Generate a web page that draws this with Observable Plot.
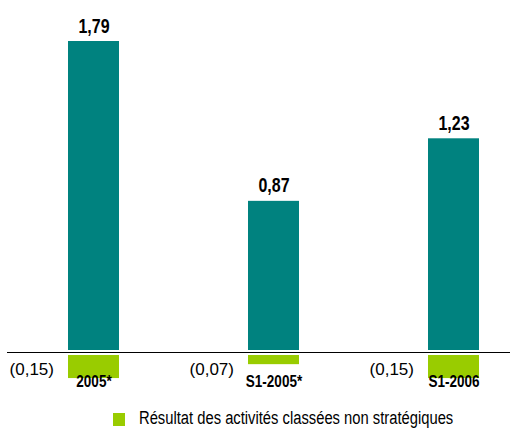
<!DOCTYPE html>
<html>
<head>
<meta charset="utf-8">
<script src="https://cdn.jsdelivr.net/npm/d3@7"></script>
<script src="https://cdn.jsdelivr.net/npm/@observablehq/plot@0.6"></script>
<style>
  html, body { margin: 0; padding: 0; background: #fff; }
  #wrap { position: relative; width: 510px; height: 428px; overflow: hidden; }
  #legend { position: absolute; left: 0; top: 400px; width: 510px; height: 28px;
    font-family: "Liberation Sans", Arial, sans-serif; font-size: 18px; color: #000; }
  #legend .sw { position: absolute; left: 113px; top: 13px; width: 12px; height: 13px; background: #99CC00; }
  #legend .lab { position: absolute; left: 139px; top: 8px; white-space: nowrap; line-height: 20px;
    transform: scaleX(0.82); transform-origin: 0 50%; }
</style>
</head>
<body>
<div id="wrap"></div>
<script>
const categories = ["2005*", "S1-2005*", "S1-2006"];
const resultValues = [1.79, 0.87, 1.23];
const resultLabels = ["1,79", "0,87", "1,23"];
const nonStrategicValues = [-0.15, -0.07, -0.15];
const nonStrategicLabels = ["(0,15)", "(0,07)", "(0,15)"];
const legendLabel = "Résultat des activités classées non stratégiques";

const teal = "#00827F";
const green = "#99CC00";
const font = "'Liberation Sans', Arial, sans-serif";

const main = categories.map((c, i) => ({cat: c, v: resultValues[i], label: resultLabels[i]}));
const neg = categories.map((c, i) => ({cat: c, v: nonStrategicValues[i], label: nonStrategicLabels[i]}));

const chart = Plot.plot({
  width: 510,
  height: 400,
  marginLeft: 7,
  marginRight: 0,
  marginTop: 0,
  marginBottom: 0,
  style: {background: "#fff", overflow: "visible"},
  x: {domain: categories, range: [49, 497], paddingInner: 0.718, paddingOuter: 0.1, axis: null},
  y: {domain: [0, 1.79], range: [352, 41], axis: null},
  marks: [
    Plot.barY(main, {x: "cat", y1: 0, y2: "v", fill: teal, insetBottom: 2}),
    Plot.barY(neg, {x: "cat", y1: 0, y2: "v", fill: green, insetTop: 3}),
    Plot.ruleY([0], {stroke: "#000", strokeWidth: 1.2}),
    Plot.text(main, {x: "cat", y: "v", text: "label", dy: -9, lineAnchor: "bottom",
      fontFamily: font, fontWeight: "bold", fontSize: 19.5, fill: "#000"}),
    Plot.text(neg, {x: "cat", y: d => 0, text: "label", dx: -40, dy: 17, textAnchor: "end", lineAnchor: "middle",
      fontFamily: font, fontSize: 17, fill: "#000"}),
    Plot.text(neg, {x: "cat", y: d => 0, text: "cat", dy: 29, lineAnchor: "middle",
      fontFamily: font, fontWeight: "bold", fontSize: 16.5, fill: "#000"})
  ]
});

// condense bold labels horizontally (Arial Narrow look)
d3.select(chart).selectAll('g[font-weight="bold"] text').each(function() {
  const t = this;
  const tr = t.getAttribute("transform") || "";
  const g = document.createElementNS("http://www.w3.org/2000/svg", "g");
  g.setAttribute("transform", `${tr} scale(0.82,1)`);
  t.parentNode.insertBefore(g, t);
  g.appendChild(t);
  t.removeAttribute("transform");
});

const wrap = document.getElementById("wrap");
wrap.appendChild(chart);
const legend = document.createElement("div");
legend.id = "legend";
legend.innerHTML = `<span class="sw"></span><span class="lab"></span>`;
legend.querySelector(".lab").textContent = legendLabel;
wrap.appendChild(legend);
</script>
</body>
</html>
